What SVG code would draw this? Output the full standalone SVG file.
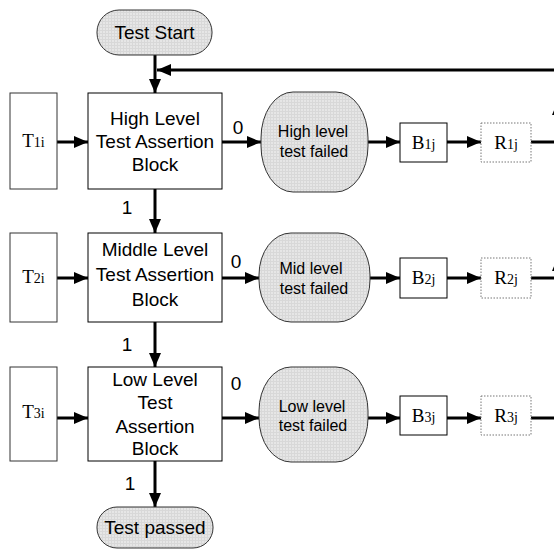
<svg xmlns="http://www.w3.org/2000/svg" width="554" height="552" viewBox="0 0 554 552">
  <defs>
    <!-- light grey hatched fill used by terminals and failure states -->
    <pattern id="grid" width="3" height="3" patternUnits="userSpaceOnUse">
      <rect width="3" height="3" fill="#e6e6e6"/>
      <path d="M0,0.5 H3 M0.5,0 V3" stroke="#d8d8d8" stroke-width="1"/>
    </pattern>
    <marker id="arrow" markerUnits="userSpaceOnUse" markerWidth="14" markerHeight="12" refX="14" refY="6" orient="auto">
      <path d="M0,0 L14,6 L0,12 Z" fill="#000"/>
    </marker>
    <style>
      .box { fill: #fff; stroke: #000; stroke-width: 1; }
      .src { fill: #fff; stroke: #333; stroke-width: 1; }
      .res { fill: #fff; stroke: #777; stroke-width: 1; stroke-dasharray: 1.5 1.5; }
      .term { fill: url(#grid); stroke: #333; stroke-width: 1; }
      .lbl { font-family: "Liberation Sans", Arial, sans-serif; font-size: 19px; fill: #000; text-anchor: middle; }
      .small { font-family: "Liberation Sans", Arial, sans-serif; font-size: 16px; fill: #000; text-anchor: middle; }
      .ser { font-family: "Liberation Serif", "Times New Roman", serif; font-size: 19px; fill: #000; text-anchor: middle; }
      .sub { font-size: 14px; }
      .edge { fill: none; stroke: #000; stroke-width: 3; }
      .arr { marker-end: url(#arrow); }
    </style>
  </defs>

  <!-- connectors -->
  <g id="connectors">
    <path class="edge arr" d="M155,55 V93"/>
    <path class="edge arr" d="M558,70 H157"/>
    <path class="edge" d="M558,143 V68"/>
    <path class="edge arr" d="M558,278 V101"/>
    <path class="edge arr" d="M558,418 V257"/>

    <!-- row 1 -->
    <path class="edge arr" d="M57,142 H88"/>
    <path class="edge arr" d="M222,142 H261"/>
    <path class="edge arr" d="M368,142 H400"/>
    <path class="edge arr" d="M447,142 H481"/>
    <path class="edge" d="M531,142 H560"/>
    <path class="edge arr" d="M155,189 V233"/>

    <!-- row 2 -->
    <path class="edge arr" d="M57,278 H88"/>
    <path class="edge arr" d="M222,278 H259"/>
    <path class="edge arr" d="M370,278 H400"/>
    <path class="edge arr" d="M447,278 H481"/>
    <path class="edge" d="M531,278 H560"/>
    <path class="edge arr" d="M155,322 V367"/>

    <!-- row 3 -->
    <path class="edge arr" d="M57,418 H88"/>
    <path class="edge arr" d="M222,418 H259"/>
    <path class="edge arr" d="M368,418 H400"/>
    <path class="edge arr" d="M447,418 H481"/>
    <path class="edge" d="M531,418 H560"/>
    <path class="edge arr" d="M155,461 V507"/>

    <text class="lbl" x="238" y="134">0</text>
    <text class="lbl" x="127" y="214">1</text>
    <text class="lbl" x="236" y="268">0</text>
    <text class="lbl" x="127" y="351">1</text>
    <text class="lbl" x="236" y="390">0</text>
    <text class="lbl" x="130" y="490">1</text>
  </g>

  <g id="test-start">
    <rect class="term" x="97" y="10" width="115" height="45" rx="22" ry="22"/>
    <text class="lbl" x="154.5" y="39">Test Start</text>
  </g>

  <!-- high level row -->
  <g id="t1i">
    <rect class="src" x="10" y="93" width="47" height="96"/>
    <text class="ser" x="33.5" y="147">T<tspan class="sub">1i</tspan></text>
  </g>
  <g id="high-block">
    <rect class="box" x="88" y="93" width="134" height="96"/>
    <text class="lbl" x="155" y="125">High Level</text>
    <text class="lbl" x="155" y="148">Test Assertion</text>
    <text class="lbl" x="155" y="171">Block</text>
  </g>
  <g id="high-failed">
    <rect class="term" x="261" y="92" width="107" height="100" rx="32" ry="46"/>
    <text class="small" x="313" y="137">High level</text>
    <text class="small" x="314" y="157">test failed</text>
  </g>
  <g id="b1j">
    <rect class="box" x="400" y="123" width="47" height="39"/>
    <text class="ser" x="423.5" y="149">B<tspan class="sub">1j</tspan></text>
  </g>
  <g id="r1j">
    <rect class="res" x="481" y="123" width="50" height="39"/>
    <text class="ser" x="506" y="149">R<tspan class="sub">1j</tspan></text>
  </g>

  <!-- middle level row -->
  <g id="t2i">
    <rect class="src" x="10" y="233" width="47" height="89"/>
    <text class="ser" x="33.5" y="283">T<tspan class="sub">2i</tspan></text>
  </g>
  <g id="middle-block">
    <rect class="box" x="88" y="233" width="134" height="89"/>
    <text class="lbl" x="155" y="256">Middle Level</text>
    <text class="lbl" x="155" y="281">Test Assertion</text>
    <text class="lbl" x="155" y="306">Block</text>
  </g>
  <g id="mid-failed">
    <rect class="term" x="259" y="233" width="111" height="89" rx="32" ry="42"/>
    <text class="small" x="311" y="274">Mid level</text>
    <text class="small" x="314" y="294">test failed</text>
  </g>
  <g id="b2j">
    <rect class="box" x="400" y="258" width="47" height="40"/>
    <text class="ser" x="423.5" y="284">B<tspan class="sub">2j</tspan></text>
  </g>
  <g id="r2j">
    <rect class="res" x="481" y="258" width="50" height="40"/>
    <text class="ser" x="506" y="284">R<tspan class="sub">2j</tspan></text>
  </g>

  <!-- low level row -->
  <g id="t3i">
    <rect class="src" x="10" y="367" width="47" height="94"/>
    <text class="ser" x="33.5" y="418">T<tspan class="sub">3i</tspan></text>
  </g>
  <g id="low-block">
    <rect class="box" x="88" y="367" width="134" height="94"/>
    <text class="lbl" x="155" y="386">Low Level</text>
    <text class="lbl" x="155" y="409">Test</text>
    <text class="lbl" x="155" y="433">Assertion</text>
    <text class="lbl" x="155" y="455">Block</text>
  </g>
  <g id="low-failed">
    <rect class="term" x="259" y="367" width="109" height="95" rx="32" ry="44"/>
    <text class="small" x="312" y="412">Low level</text>
    <text class="small" x="313" y="431">test failed</text>
  </g>
  <g id="b3j">
    <rect class="box" x="400" y="396" width="47" height="39"/>
    <text class="ser" x="423.5" y="422">B<tspan class="sub">3j</tspan></text>
  </g>
  <g id="r3j">
    <rect class="res" x="481" y="396" width="50" height="39"/>
    <text class="ser" x="506" y="422">R<tspan class="sub">3j</tspan></text>
  </g>

  <g id="test-passed">
    <rect class="term" x="97" y="507" width="116" height="41" rx="20" ry="20"/>
    <text class="lbl" x="155" y="534">Test passed</text>
  </g>
</svg>
